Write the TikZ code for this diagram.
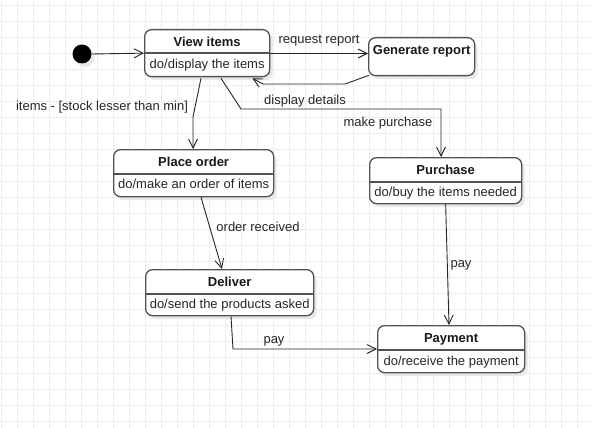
\documentclass[tikz,border=0pt]{standalone}
\usepackage{fontspec}
\setmainfont{Liberation Sans}
\usetikzlibrary{arrows.meta,calc,shadows}
\begin{document}
\begin{tikzpicture}[x=1pt,y=-1pt,
  statebox/.style={draw=black!68, line width=1.3pt, rounded corners=7pt, fill=white, inner sep=0pt, anchor=north west,
    drop shadow={shadow xshift=3pt,shadow yshift=-3.5pt,fill=black!9,opacity=1}},
  divider/.style={draw=black!68, line width=1.3pt},
  txt/.style={inner sep=0pt, text height=9.5pt, text depth=2.8pt},
  ttl/.style={txt, font=\fontsize{13}{15}\selectfont\bfseries, text=black!90},
  act/.style={txt, font=\fontsize{13}{15}\selectfont, text=black!85},
  lbl/.style={txt, font=\fontsize{13}{15}\selectfont, text=black!85},
  edge/.style={draw=black!85, line width=0.9pt, -{Straight Barb[length=9pt,width=9pt]}},
  gridline/.style={draw=black!7, line width=0.8pt}
]
\useasboundingbox (0,0) rectangle (592,428);
\fill[white] (0,0) rectangle (592,428);
\foreach \i in {0,...,36} \draw[gridline] ({1.7+16*\i},0) -- ({1.7+16*\i},428);
\foreach \j in {0,...,26} \draw[gridline] (0,{5.7+16*\j}) -- (592,{5.7+16*\j});

% initial state
\node[circle, fill=black, minimum size=19pt, inner sep=0pt,
  drop shadow={shadow xshift=3pt,shadow yshift=-3.5pt,fill=black!9,opacity=1}] (init) at (82,54) {};

% View items
\node[statebox, minimum width=125pt, minimum height=47pt] (v) at (144,29) {};
\draw[divider] ($(v.north west)+(0,24)$) -- ($(v.north east)+(0,24)$);
\node[ttl] (vt) at ($(v.north)+(0,13.8)$) {View items};
\node[act] (va) at ($(v.north)+(0,36.5)$) {do/display the items};

% Generate report
\node[statebox, minimum width=106pt, minimum height=38pt] (g) at (368,37) {};
\node[ttl] (gt) at ($(g.north)+(0,13.8)$) {Generate report};

% Place order
\node[statebox, minimum width=160pt, minimum height=47pt] (p) at (113,149) {};
\draw[divider] ($(p.north west)+(0,25)$) -- ($(p.north east)+(0,25)$);
\node[ttl] (pt) at ($(p.north)+(0,13.8)$) {Place order};
\node[act] (pa) at ($(p.north)+(0,36.5)$) {do/make an order of items};

% Purchase
\node[statebox, minimum width=152pt, minimum height=46pt] (u) at (369,157) {};
\draw[divider] ($(u.north west)+(0,25)$) -- ($(u.north east)+(0,25)$);
\node[ttl] (ut) at ($(u.north)+(0,13.8)$) {Purchase};
\node[act] (ua) at ($(u.north)+(0,36.5)$) {do/buy the items needed};

% Deliver
\node[statebox, minimum width=168pt, minimum height=46pt] (d) at (145,269) {};
\draw[divider] ($(d.north west)+(0,25)$) -- ($(d.north east)+(0,25)$);
\node[ttl] (dt) at ($(d.north)+(0,13.8)$) {Deliver};
\node[act] (da) at ($(d.north)+(0,36.5)$) {do/send the products asked};

% Payment
\node[statebox, minimum width=147pt, minimum height=47pt] (m) at (377,325) {};
\draw[divider] ($(m.north west)+(0,25)$) -- ($(m.north east)+(0,25)$);
\node[ttl] (mt) at ($(m.north)+(0,13.8)$) {Payment};
\node[act] (ma) at ($(m.north)+(0,37)$) {do/receive the payment};

% waypoints
\coordinate (w1) at (345,84);
\coordinate (w2) at (263,84);
\coordinate (w3) at (193,117);
\coordinate (w4) at (241,109);
\coordinate (w5) at (441,109);
\coordinate (w6) at (233,349);

% connectors
\draw[edge] (init.east) -- (v.west);
\draw[edge] ($(v.north east)+(0,24.5)$) -- ($(g.north west)+(0,16.5)$);
\draw[edge] ($(g.south west)+(1,-1)$) -- (w1) -- (w2) -- ($(v.south east)+(-18,1)$);
\draw[edge] ($(v.south west)+(57,1)$) -- (w3) -- (p.north -| w3);
\draw[edge] ($(v.south west)+(77,1)$) -- (w4) -- (w5) -- (u.north -| w5);
\draw[edge] ($(p.south west)+(88,0)$) -- ($(d.north west)+(77,0)$);
\draw[edge] (u.south) -- ($(m.north west)+(72,0)$);
\draw[edge] ($(d.south west)+(86,0)$) -- (w6) -- (m.west |- w6);

% labels
\node[lbl] (l1) at (319,40.3) {request report};
\node[lbl] (l2) at (305,101.3) {display details};
\node[lbl] (l3) at (388,123.3) {make purchase};
\node[lbl] (l4) at (102,107.3) {items - [stock lesser than min]};
\node[lbl] (l5) at (258,228.3) {order received};
\node[lbl] (l6) at (461,264.3) {pay};
\node[lbl] (l7) at (274,340.3) {pay};
\end{tikzpicture}
\end{document}
